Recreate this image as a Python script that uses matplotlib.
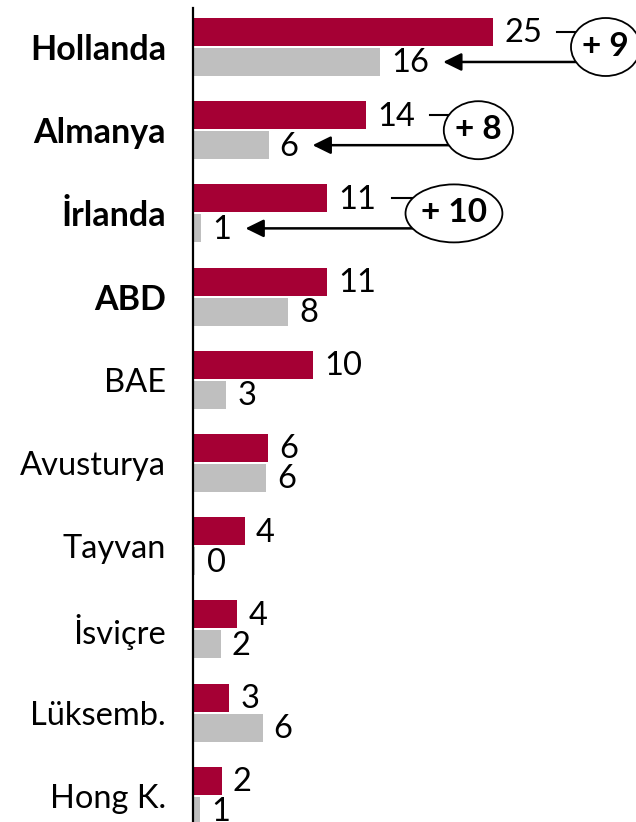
import matplotlib
matplotlib.use("Agg")
import numpy as np
import matplotlib.pyplot as plt
from matplotlib.patches import Ellipse

plt.rcParams['font.family'] = ['Lato', 'DejaVu Sans']

# data (bar lengths, labels are the rounded values)
countries = ['Hollanda', 'Almanya', 'İrlanda', 'ABD', 'BAE', 'Avusturya',
             'Tayvan', 'İsviçre', 'Lüksemb.', 'Hong K.']
current = [25.0, 14.4, 11.2, 11.2, 10.0, 6.25, 4.3, 3.7, 3.0, 2.4]
previous = [15.6, 6.3, 0.7, 7.9, 2.75, 6.1, 0.2, 2.3, 5.8, 0.6]
n_bold = 4      # first four labels in bold
n_diff = 3      # change bubbles for the first three rows

RED = '#A50034'
GRAY = '#BFBFBF'
FS = 23.5

W, H = 636, 822
fig = plt.figure(figsize=(W / 100, H / 100), dpi=100)
ax_left, ax_top = 193, 8
ax = fig.add_axes([ax_left / W, 0, (W - ax_left) / W, (H - ax_top) / H])

px_per_x = 12.0
px_per_y = 83.2
xmax = (W - ax_left) / px_per_x
ax.set_xlim(0, xmax)
ax.set_ylim((H - 47) / px_per_y, (ax_top - 47) / px_per_y)

y = np.arange(len(countries))
off = 0.18
bh = 0.337
ax.barh(y - off, current, height=bh, color=RED, zorder=2)
ax.barh(y + off, previous, height=bh, color=GRAY, zorder=2)

for sp in ['top', 'right', 'bottom']:
    ax.spines[sp].set_visible(False)
ax.spines['left'].set_linewidth(1.6)
ax.spines['left'].set_zorder(3)
ax.set_xticks([])
ax.set_yticks(y)
ax.set_yticklabels(countries, fontsize=FS)
for i, lab in enumerate(ax.get_yticklabels()):
    if i < n_bold:
        lab.set_fontweight('bold')
        lab.set_fontsize(FS + 1)
ax.tick_params(axis='y', length=0, pad=19.5)

red_labels = []
gray_labels = []
for i in range(len(countries)):
    t1 = ax.annotate(str(round(current[i])), (current[i], y[i] - off), xytext=(8, -1),
                     textcoords='offset points', ha='left', va='center', fontsize=FS)
    t2 = ax.annotate(str(round(previous[i])), (previous[i], y[i] + off), xytext=(8, -1),
                     textcoords='offset points', ha='left', va='center', fontsize=FS)
    red_labels.append(t1)
    gray_labels.append(t2)

# change bubbles with arrows
fig.canvas.draw()
r = fig.canvas.get_renderer()
inv = ax.transData.inverted()
ell_h = 58 / px_per_y
for i in range(n_diff):
    diff = round(current[i]) - round(previous[i])
    rend = red_labels[i].get_window_extent(r).x1
    gend = gray_labels[i].get_window_extent(r).x1
    t = ax.text(0, y[i], f'+ {diff}', fontsize=FS + 0.5, fontweight='bold',
                ha='center', va='center', zorder=5)
    tw = t.get_window_extent(r).width
    ew_px = tw * 1.42 + 3
    left_px = rend + 29
    cx_px = left_px + ew_px / 2
    cx = inv.transform((cx_px, 0))[0]
    t.set_position((cx, y[i] - 0.01))
    a = ew_px / 2 / px_per_x
    b = ell_h / 2
    ax.add_patch(Ellipse((cx, y[i]), 2 * a, 2 * b, facecolor='white',
                         edgecolor='black', lw=1.3, zorder=4, clip_on=False))
    # dash from red label to bubble
    dy = off
    bx = cx - a * np.sqrt(1 - (dy / b) ** 2)
    x0 = inv.transform((rend + 15, 0))[0]
    ax.plot([x0, bx], [y[i] - off, y[i] - off], color='black', lw=1.5, zorder=3)
    # arrow from bubble to gray label
    tip = inv.transform((gend + 14, 0))[0]
    ax.annotate('', xy=(tip, y[i] + off), xytext=(bx, y[i] + off),
                arrowprops=dict(arrowstyle='-|>,head_length=0.55,head_width=0.27',
                                color='black', lw=1.8, shrinkA=0, shrinkB=0,
                                mutation_scale=20), zorder=3)

fig.savefig('out.png', dpi=100)
